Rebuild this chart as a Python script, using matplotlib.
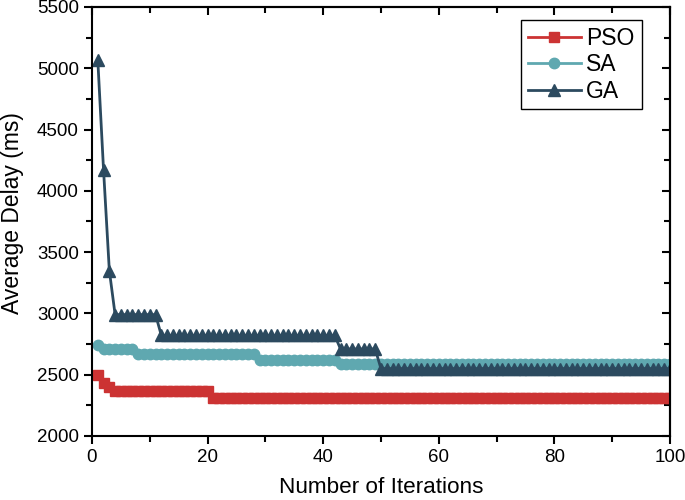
import matplotlib
matplotlib.use("Agg")
import matplotlib.pyplot as plt
from matplotlib.ticker import MultipleLocator

iterations = list(range(1, 101))

pso = [2500, 2430, 2400, 2370, 2370, 2370, 2370, 2370, 2370, 2370,
       2370, 2370, 2370, 2370, 2370, 2370, 2370, 2370, 2370, 2370,
       2310, 2310, 2310, 2310, 2310, 2310, 2310, 2310, 2310, 2310,
       2310, 2310, 2310, 2310, 2310, 2310, 2310, 2310, 2310, 2310,
       2310, 2310, 2310, 2310, 2310, 2310, 2310, 2310, 2310, 2310,
       2310, 2310, 2310, 2310, 2310, 2310, 2310, 2310, 2310, 2310,
       2310, 2310, 2310, 2310, 2310, 2310, 2310, 2310, 2310, 2310,
       2310, 2310, 2310, 2310, 2310, 2310, 2310, 2310, 2310, 2310,
       2310, 2310, 2310, 2310, 2310, 2310, 2310, 2310, 2310, 2310,
       2310, 2310, 2310, 2310, 2310, 2310, 2310, 2310, 2310, 2310]

sa = [2740, 2710, 2710, 2710, 2710, 2710, 2710, 2670, 2670, 2670,
      2670, 2670, 2670, 2670, 2670, 2670, 2670, 2670, 2670, 2670,
      2670, 2670, 2670, 2670, 2670, 2670, 2670, 2670, 2620, 2620,
      2620, 2620, 2620, 2620, 2620, 2620, 2620, 2620, 2620, 2620,
      2620, 2620, 2590, 2590, 2590, 2590, 2590, 2590, 2590, 2590,
      2590, 2590, 2590, 2590, 2590, 2590, 2590, 2590, 2590, 2590,
      2590, 2590, 2590, 2590, 2590, 2590, 2590, 2590, 2590, 2590,
      2590, 2590, 2590, 2590, 2590, 2590, 2590, 2590, 2590, 2590,
      2590, 2590, 2590, 2590, 2590, 2590, 2590, 2590, 2590, 2590,
      2590, 2590, 2590, 2590, 2590, 2590, 2590, 2590, 2590, 2590]

ga = [5070, 4170, 3350, 2990, 2990, 2990, 2990, 2990, 2990, 2990,
      2990, 2820, 2820, 2820, 2820, 2820, 2820, 2820, 2820, 2820,
      2820, 2820, 2820, 2820, 2820, 2820, 2820, 2820, 2820, 2820,
      2820, 2820, 2820, 2820, 2820, 2820, 2820, 2820, 2820, 2820,
      2820, 2820, 2710, 2710, 2710, 2710, 2710, 2710, 2710, 2550,
      2550, 2550, 2550, 2550, 2550, 2550, 2550, 2550, 2550, 2550,
      2550, 2550, 2550, 2550, 2550, 2550, 2550, 2550, 2550, 2550,
      2550, 2550, 2550, 2550, 2550, 2550, 2550, 2550, 2550, 2550,
      2550, 2550, 2550, 2550, 2550, 2550, 2550, 2550, 2550, 2550,
      2550, 2550, 2550, 2550, 2550, 2550, 2550, 2550, 2550, 2550]

plt.rcParams['font.family'] = ['Liberation Sans', 'DejaVu Sans']

fig = plt.figure(figsize=(6.85, 5.0), dpi=100)
ax = fig.add_axes([0.1343, 0.128, 0.978 - 0.1343, 0.986 - 0.128])

c_pso = '#CC3333'
c_sa = '#5FA8B0'
c_ga = '#2C4A5F'

ax.plot(iterations, pso, color=c_pso, marker='s', markersize=6.5, lw=2, label='PSO')
ax.plot(iterations, sa, color=c_sa, marker='o', markersize=7.5, lw=2, label='SA')
ax.plot(iterations, ga, color=c_ga, marker='^', markersize=8, lw=2, label='GA')

ax.set_xlim(0, 100)
ax.set_ylim(2000, 5500)
ax.xaxis.set_major_locator(MultipleLocator(20))
ax.xaxis.set_minor_locator(MultipleLocator(10))
ax.yaxis.set_major_locator(MultipleLocator(500))
ax.yaxis.set_minor_locator(MultipleLocator(250))

for s in ax.spines.values():
    s.set_linewidth(1.5)

ax.tick_params(which='major', direction='out', length=6, width=1.5, labelsize=13.5,
               top=False, right=False)
ax.tick_params(which='minor', direction='out', length=4, width=1.5, top=False, right=False)

# mirrored inward ticks on top and right
axt = ax.secondary_xaxis('top')
axt.xaxis.set_major_locator(MultipleLocator(20))
axt.xaxis.set_minor_locator(MultipleLocator(10))
axt.tick_params(which='both', direction='in', length=6, width=1.5, labeltop=False)
axt.tick_params(which='minor', length=4)
axt.spines['top'].set_linewidth(1.5)
axr = ax.secondary_yaxis('right')
axr.yaxis.set_major_locator(MultipleLocator(500))
axr.yaxis.set_minor_locator(MultipleLocator(250))
axr.tick_params(which='both', direction='in', length=6, width=1.5, labelright=False)
axr.tick_params(which='minor', length=4)
axr.spines['right'].set_linewidth(1.5)

ax.set_xlabel('Number of Iterations', fontsize=16.2)
ax.set_ylabel('Average Delay (ms)', fontsize=16.5)
ax.xaxis.set_label_coords(0.5, -0.096)
ax.yaxis.set_label_coords(-0.1375, 0.519)
ax.yaxis.label.set_verticalalignment('center')
ax.xaxis.label.set_verticalalignment('top')

leg = ax.legend(loc='upper right', bbox_to_anchor=(0.951, 0.970), borderaxespad=0,
                fontsize=16.5, frameon=True, fancybox=False, edgecolor='black',
                framealpha=1, handlelength=2.3, borderpad=0.3, labelspacing=0.15,
                handletextpad=0.25)
leg.get_frame().set_linewidth(1.0)

fig.savefig('out.png', dpi=100)
